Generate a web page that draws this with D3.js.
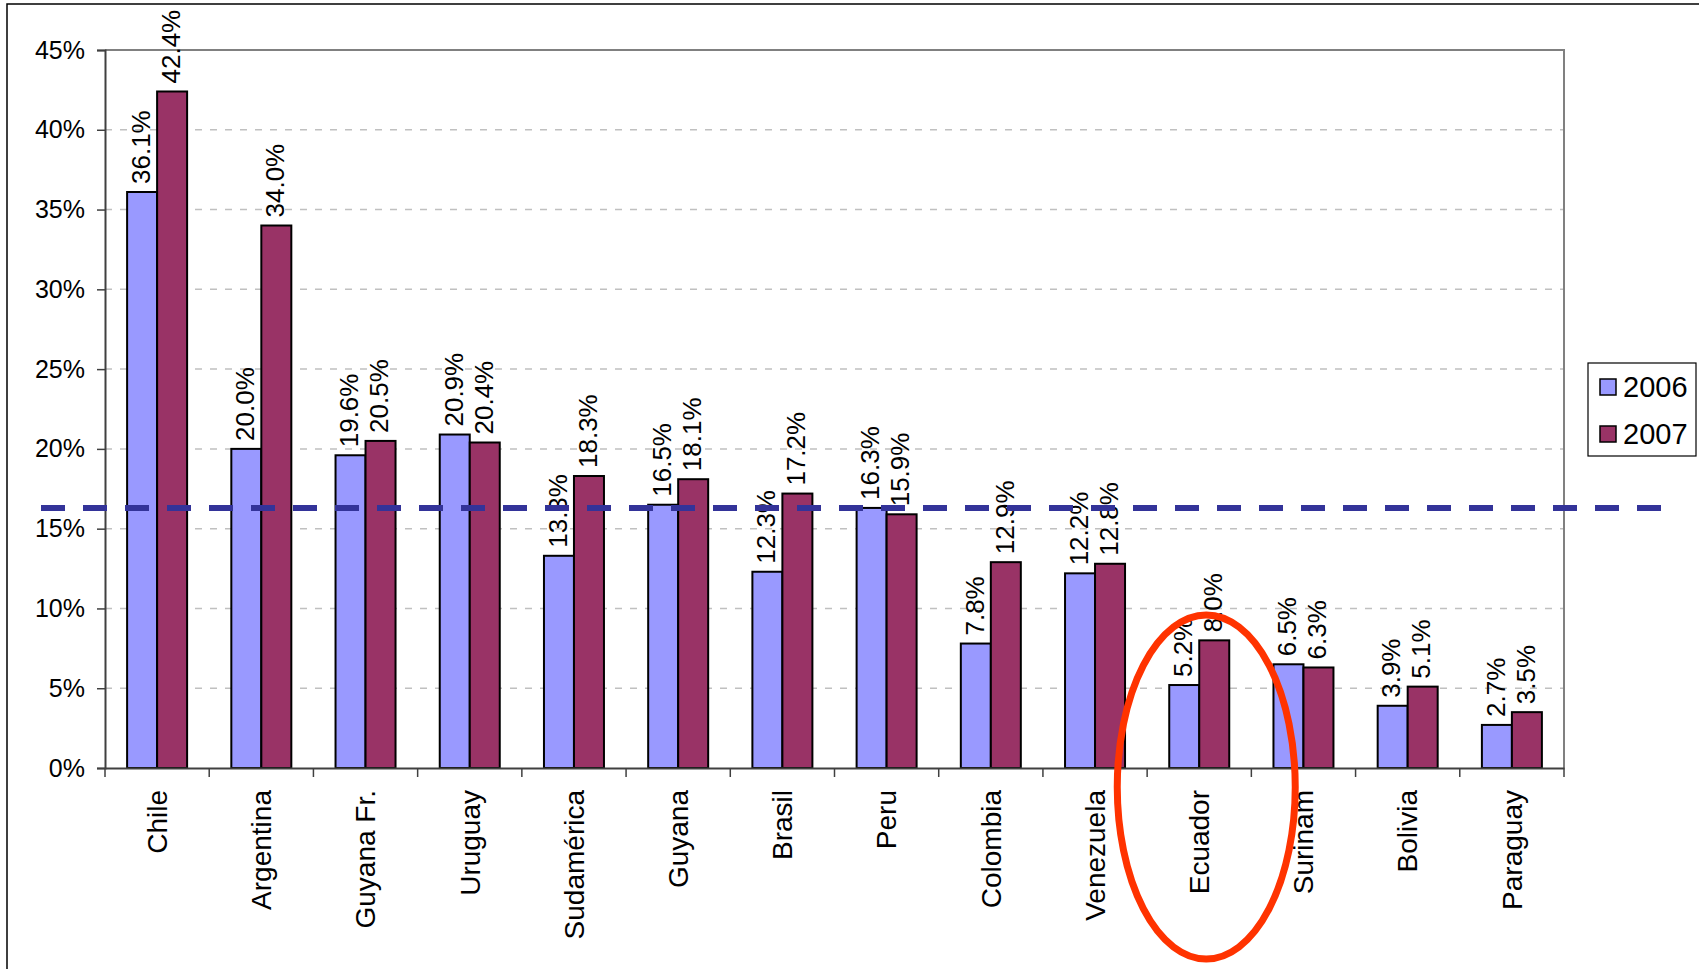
<!doctype html>
<html>
  <head>
    <meta charset="utf-8">
    <script src="https://cdn.jsdelivr.net/npm/d3@7/dist/d3.min.js"></script>
    <style>
    body { margin: 0; background: #fff; }
    svg { display: block; font-family: "Liberation Sans", Arial, sans-serif; }
    .grid line { stroke: #c0c0c0; stroke-width: 1.5; stroke-dasharray: 7,8; }
    .bar { stroke: #000; stroke-width: 2; }
    </style>
  </head>
  <body>
    <svg width="1699" height="969"></svg>
    <script>
      // datos
      var paises = ["Chile", "Argentina", "Guyana Fr.", "Uruguay", "Sudamérica", "Guyana",
        "Brasil", "Peru", "Colombia", "Venezuela", "Ecuador", "Surinam", "Bolivia", "Paraguay"];
      var anios = ["2006", "2007"];
      var v2006 = [36.1, 20.0, 19.6, 20.9, 13.3, 16.5, 12.3, 16.3, 7.8, 12.2, 5.2, 6.5, 3.9, 2.7];
      var v2007 = [42.4, 34.0, 20.5, 20.4, 18.3, 18.1, 17.2, 15.9, 12.9, 12.8, 8.0, 6.3, 5.1, 3.5];
      var yTicks = [0, 5, 10, 15, 20, 25, 30, 35, 40, 45];
      var promedio = 16.3;
      var destacado = "Ecuador";

      var colores = d3.scaleOrdinal().domain(anios).range(["#9999FF", "#993366"]);

      var svg = d3.select("svg");
      var pLeft = 105, pTop = 50, pRight = 1564, pBottom = 768;

      var x = d3.scaleBand().domain(paises).range([pLeft, pRight]);
      var x1 = d3.scaleBand().domain(anios).range([x.bandwidth() / 2 - 30, x.bandwidth() / 2 + 30]);
      var y = d3.scaleLinear().domain([0, 45]).range([pBottom, pTop]);

      // marco exterior
      svg.append("rect")
        .attr("x", 7).attr("y", 4)
        .attr("width", 1720).attr("height", 1000)
        .attr("fill", "none").attr("stroke", "#000").attr("stroke-width", 1.5);

      // grilla
      svg.append("g").attr("class", "grid")
        .selectAll("line")
        .data(yTicks.filter(d => d > 0 && d < 45))
        .enter().append("line")
          .attr("x1", pLeft).attr("x2", pRight)
          .attr("y1", d => y(d)).attr("y2", d => y(d));

      // borde del area de grafico
      svg.append("path")
        .attr("d", `M${pLeft},${pTop}H${pRight}V${pBottom}`)
        .attr("fill", "none").attr("stroke", "#808080").attr("stroke-width", 2);

      // barras
      var data = paises.map((p, i) => ({ pais: p, valores: [v2006[i], v2007[i]] }));
      var grupos = svg.selectAll("g.pais")
        .data(data)
        .enter().append("g")
          .attr("class", "pais")
          .attr("transform", d => `translate(${x(d.pais)},0)`);

      grupos.selectAll("rect")
        .data(d => d.valores.map((v, j) => ({ anio: anios[j], v: v })))
        .enter().append("rect")
          .attr("class", "bar")
          .attr("x", d => x1(d.anio))
          .attr("width", x1.bandwidth())
          .attr("y", d => y(d.v))
          .attr("height", d => pBottom - y(d.v))
          .attr("fill", d => colores(d.anio));

      grupos.selectAll("text.valor")
        .data(d => d.valores.map((v, j) => ({ anio: anios[j], v: v })))
        .enter().append("text")
          .attr("class", "valor")
          .attr("transform", d => `translate(${x1(d.anio) + x1.bandwidth() / 2},${y(d.v) - 8}) rotate(-90)`)
          .attr("dy", "0.3em")
          .style("font-size", "26px")
          .text(d => d.v.toFixed(1) + "%");

      // eje Y
      var yAxis = svg.append("g")
        .attr("transform", `translate(${pLeft},0)`)
        .call(d3.axisLeft(y).tickValues(yTicks).tickFormat(d => d + "%").tickSize(8).tickPadding(12));
      yAxis.select(".domain").attr("stroke", "#404040").attr("stroke-width", 2);
      yAxis.selectAll(".tick line").attr("stroke", "#404040").attr("stroke-width", 1.5);
      yAxis.selectAll("text").style("font-size", "25px").style("font-family", "Liberation Sans, Arial, sans-serif").attr("fill", "#000");

      // eje X
      var xAxis = svg.append("g")
        .attr("transform", `translate(0,${pBottom})`)
        .call(d3.axisBottom(x).tickSize(0).tickFormat(""));
      xAxis.select(".domain").attr("stroke", "#404040").attr("stroke-width", 2);

      svg.append("g").selectAll("line")
        .data(paises.concat([null]))
        .enter().append("line")
          .attr("x1", (d, i) => pLeft + i * x.bandwidth())
          .attr("x2", (d, i) => pLeft + i * x.bandwidth())
          .attr("y1", pBottom).attr("y2", pBottom + 9)
          .attr("stroke", "#404040").attr("stroke-width", 1.5);

      svg.append("g").selectAll("text")
        .data(paises)
        .enter().append("text")
          .attr("transform", d => `translate(${x(d) + x.bandwidth() / 2},${pBottom + 22}) rotate(-90)`)
          .attr("text-anchor", "end")
          .attr("dy", "0.35em")
          .style("font-size", "28px")
          .text(d => d);

      // linea de promedio
      svg.append("line")
        .attr("x1", 41).attr("x2", 1661)
        .attr("y1", y(promedio)).attr("y2", y(promedio))
        .attr("stroke", "#333399").attr("stroke-width", 6)
        .attr("stroke-dasharray", "24,18");

      // leyenda
      var leg = svg.append("g").attr("transform", "translate(1588,363)");
      leg.append("rect")
        .attr("width", 108).attr("height", 93)
        .attr("fill", "#fff").attr("stroke", "#000").attr("stroke-width", 1.2);
      var items = leg.selectAll("g.item")
        .data(anios)
        .enter().append("g")
          .attr("transform", (d, i) => `translate(12,${16 + i * 47})`);
      items.append("rect")
        .attr("width", 16).attr("height", 16)
        .attr("fill", d => colores(d))
        .attr("stroke", "#000").attr("stroke-width", 1.5);
      items.append("text")
        .attr("x", 23).attr("y", 18)
        .style("font-size", "29px")
        .text(d => d);

      // elipse de Ecuador
      svg.append("ellipse")
        .attr("cx", x(destacado) + x.bandwidth() / 2 + 7)
        .attr("cy", 787)
        .attr("rx", 89).attr("ry", 172)
        .attr("fill", "none")
        .attr("stroke", "#FF3300").attr("stroke-width", 7);
    </script>
  </body>
</html>
